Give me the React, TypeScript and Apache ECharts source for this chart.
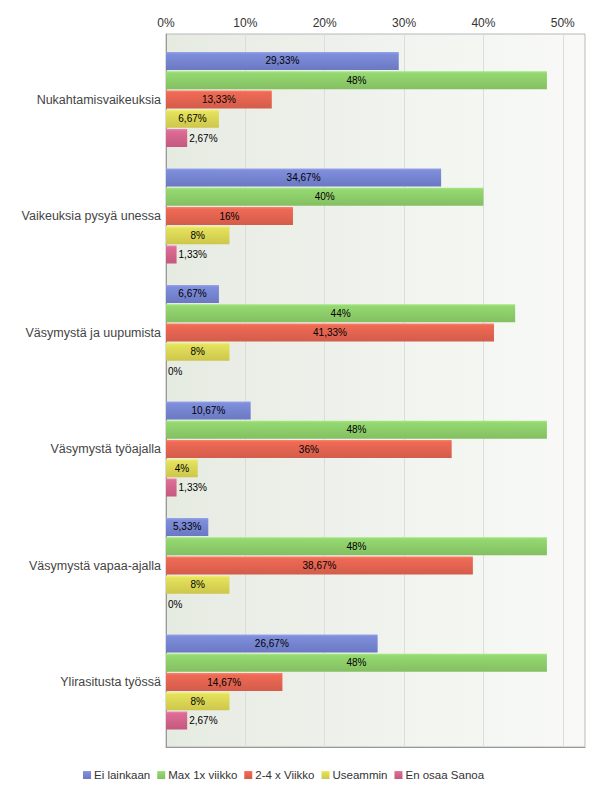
import React, { useEffect, useRef } from 'react';
import * as echarts from 'echarts';

const categories = [
  'Nukahtamisvaikeuksia',
  'Vaikeuksia pysyä unessa',
  'Väsymystä ja uupumista',
  'Väsymystä työajalla',
  'Väsymystä vapaa-ajalla',
  'Ylirasitusta työssä',
];
const seriesNames = ['Ei lainkaan', 'Max 1x viikko', '2-4 x Viikko', 'Useammin', 'En osaa Sanoa'];
const eiLainkaan = [29.33, 34.67, 6.67, 10.67, 5.33, 26.67];
const max1xViikko = [48, 40, 44, 48, 48, 48];
const kaksiNeljaViikko = [13.33, 16, 41.33, 36, 38.67, 14.67];
const useammin = [6.67, 8, 8, 4, 8, 8];
const enOsaaSanoa = [2.67, 1.33, 0, 1.33, 0, 2.67];
const axisMax = 52.8;
const axisInterval = 10;

const seriesValues = [eiLainkaan, max1xViikko, kaksiNeljaViikko, useammin, enOsaaSanoa];
const gradients: [string, string, string][] = [
  ['#98a5ea', '#7f8edb', '#6b79c3'],
  ['#a6e882', '#94d870', '#84bf62'],
  ['#fb8470', '#ef6a55', '#d35c4b'],
  ['#f2f27a', '#e4e25c', '#cdc64c'],
  ['#ee86ac', '#dd6c96', '#c4587e'],
];

const fmt = (v: number) => String(v).replace('.', ',') + '%';

export default function App() {
  const ref = useRef<HTMLDivElement>(null);
  useEffect(() => {
    if (!ref.current) return;
    const chart = echarts.init(ref.current, undefined, { renderer: 'svg' });
    const font = 'Liberation Sans, Arial, sans-serif';
    const series = seriesNames.map((name, i) => ({
      name,
      type: 'bar',
      xAxisIndex: 1,
      yAxisIndex: 1,
      barWidth: 18,
      barGap: '7%',
      itemStyle: {
        color: new echarts.graphic.LinearGradient(0, 0, 0, 1, [
          { offset: 0, color: gradients[i][0] },
          { offset: 0.12, color: gradients[i][1] },
          { offset: 1, color: gradients[i][2] },
        ]),
      },
      data: seriesValues[i].map((v) => ({
        value: v,
        label: { position: v < 3 ? 'right' : 'inside', distance: 2 },
      })),
      label: {
        show: true,
        formatter: (p: any) => fmt(p.value),
        fontSize: 10,
        color: '#000',
        fontFamily: font,
      },
    }));
    chart.setOption({
      animation: false,
      color: gradients.map((g) => g[1]),
      grid: [
        {
          left: 166,
          top: 34,
          width: 419,
          height: 713,
          show: true,
          borderColor: '#b8b8b8',
          borderWidth: 1,
          backgroundColor: new echarts.graphic.LinearGradient(0, 0, 1, 0, [
            { offset: 0, color: '#e6ebe2' },
            { offset: 1, color: '#f9faf8' },
          ]),
        },
        { left: 166, top: 41.25, width: 419, height: 699 },
      ],
      xAxis: [
        {
          gridIndex: 0,
          type: 'value',
          position: 'top',
          min: 0,
          max: axisMax,
          interval: axisInterval,
          axisLine: { show: true, lineStyle: { color: '#999' } },
          axisTick: { show: false },
          axisLabel: {
            formatter: (v: number) => (v % 10 === 0 ? v + '%' : ''),
            showMaxLabel: false,
            color: '#333',
            fontSize: 12,
            fontFamily: font,
            margin: 5,
          },
          splitLine: { show: true, lineStyle: { color: '#dcdcdc' } },
        },
        {
          gridIndex: 1,
          type: 'value',
          min: 0,
          max: axisMax,
          show: false,
        },
      ],
      yAxis: [
        {
          gridIndex: 0,
          type: 'value',
          min: 0,
          max: 1,
          axisLine: { show: true, lineStyle: { color: '#999' } },
          axisTick: { show: false },
          axisLabel: { show: false },
          splitLine: { show: false },
        },
        {
          gridIndex: 1,
          type: 'category',
          inverse: true,
          data: categories,
          axisLine: { show: false },
          axisTick: { show: false },
          axisLabel: {
            color: '#444',
            fontSize: 12.5,
            fontFamily: font,
            margin: 5,
          },
        },
      ],
      legend: {
        left: 78,
        top: 764,
        itemWidth: 8,
        itemHeight: 8,
        itemGap: 7,
        icon: 'rect',
        textStyle: { color: '#333', fontSize: 11.5, fontFamily: font, padding: [0, 0, 0, -2] },
        data: seriesNames,
      },
      series,
    });
    return () => chart.dispose();
  }, []);
  return (
    <div
      ref={ref}
      style={{ position: 'absolute', left: 0, top: 0, width: 600, height: 786 }}
    />
  );
}
